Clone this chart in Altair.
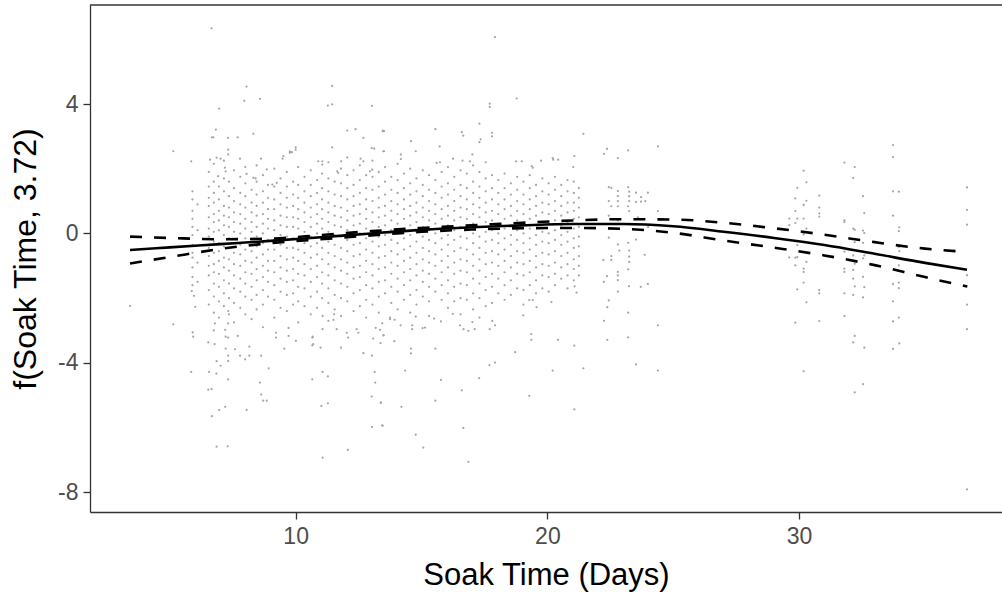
import altair as alt
import pandas as pd

# ---------------- smooth fit (solid) and confidence band (dashed) ----------------
curve_x = [3.42, 5, 7, 9, 11, 13, 15, 17, 19, 21, 23, 25, 27, 29, 31, 33, 35, 36.67]
fit_y = [-0.51, -0.43, -0.33, -0.23, -0.12, 0.0, 0.11, 0.19, 0.25, 0.29, 0.29, 0.22, 0.05, -0.14, -0.36, -0.63, -0.91, -1.12]
upper_y = [-0.10, -0.14, -0.18, -0.16, -0.05, 0.07, 0.17, 0.25, 0.33, 0.40, 0.44, 0.43, 0.33, 0.16, -0.04, -0.27, -0.47, -0.57]
lower_y = [-0.93, -0.73, -0.48, -0.30, -0.18, -0.06, 0.05, 0.12, 0.16, 0.17, 0.14, 0.02, -0.22, -0.44, -0.68, -0.98, -1.35, -1.64]

# ---------------- partial residuals: dense core, column by column ----------------
strip_x = [5.90, 6.10, 6.55, 6.75, 6.95, 7.15, 7.35, 7.55, 7.80, 8.00, 8.25, 8.45, 8.70, 8.90,
           9.15, 9.40, 9.65, 9.90, 10.10, 10.35, 10.60, 10.85, 11.05, 11.30, 11.55, 11.80,
           12.05, 12.30, 12.55, 12.80, 13.05, 13.30, 13.55, 13.80, 14.05, 14.30, 14.55, 14.80,
           15.05, 15.30, 15.55, 15.80, 16.05, 16.30, 16.55, 16.80, 17.05, 17.30, 17.55, 17.80,
           18.05, 18.30, 18.55, 18.80, 19.05, 19.30, 19.55, 19.80, 20.05, 20.30, 20.55, 20.80,
           21.05, 21.25]
strip_y = [
    [1.3, 1.05, 0.7, 0.45, 0.2, -0.05, -0.35, -0.6, -0.75, -1.05, -1.35, -1.6],
    [0.9, 0.1, -0.9, -1.5],
    [1.9, 1.45, 1.1, 0.85, 0.5, 0.15, -0.1, -0.45, -0.7, -1.0, -1.3, -1.75, -2.2],
    [2.15, 1.6, 1.25, 0.95, 0.6, 0.35, 0.05, -0.25, -0.6, -0.95, -1.2, -1.55, -1.95, -2.45, -3.0],
    [1.45, 1.05, 0.7, 0.4, 0.1, -0.3, -0.55, -0.85, -1.25, -1.65, -2.1, -2.6],
    [2.25, 1.7, 1.3, 0.85, 0.55, 0.25, -0.05, -0.4, -0.75, -1.05, -1.45, -1.85, -2.25],
    [1.6, 1.15, 0.8, 0.5, 0.2, -0.15, -0.45, -0.8, -1.15, -1.55, -2.0, -2.5],
    [1.95, 1.4, 1.0, 0.65, 0.35, 0.05, -0.3, -0.6, -0.95, -1.3, -1.7, -2.15, -2.75],
    [1.75, 1.25, 0.9, 0.6, 0.3, 0.0, -0.35, -0.65, -1.0, -1.4, -1.8, -2.3],
    [2.05, 1.55, 1.15, 0.8, 0.45, 0.15, -0.15, -0.5, -0.85, -1.2, -1.55, -1.95, -2.5],
    [1.35, 0.95, 0.65, 0.35, 0.05, -0.25, -0.55, -0.9, -1.25, -1.65, -2.05, -2.65],
    [2.1, 1.6, 1.2, 0.85, 0.55, 0.2, -0.1, -0.4, -0.75, -1.1, -1.45, -1.9, -2.35],
    [1.8, 1.3, 0.95, 0.6, 0.3, 0.0, -0.3, -0.65, -1.0, -1.35, -1.75, -2.2, -2.9],
    [1.5, 1.1, 0.75, 0.45, 0.15, -0.2, -0.5, -0.85, -1.15, -1.5, -1.95],
    [2.0, 1.45, 1.05, 0.75, 0.4, 0.1, -0.2, -0.5, -0.85, -1.2, -1.6, -2.05, -2.6],
    [1.7, 1.25, 0.9, 0.55, 0.25, -0.05, -0.35, -0.7, -1.05, -1.4, -1.8, -2.3],
    [1.9, 1.45, 1.1, 0.8, 0.5, 0.2, -0.1, -0.45, -0.8, -1.15, -1.5, -1.9, -2.4],
    [1.6, 1.2, 0.85, 0.5, 0.2, -0.15, -0.45, -0.75, -1.1, -1.45, -1.85, -2.2],
    [2.05, 1.5, 1.1, 0.75, 0.45, 0.15, -0.2, -0.5, -0.85, -1.25, -1.65, -2.1, -2.75],
    [1.75, 1.3, 0.95, 0.65, 0.35, 0.05, -0.3, -0.6, -0.95, -1.3, -1.7, -2.25],
    [1.95, 1.5, 1.15, 0.8, 0.5, 0.2, -0.1, -0.4, -0.75, -1.1, -1.5, -1.95, -2.5],
    [1.65, 1.25, 0.9, 0.6, 0.3, 0.0, -0.3, -0.65, -1.0, -1.35, -1.8, -2.3],
    [1.85, 1.4, 1.05, 0.75, 0.45, 0.15, -0.15, -0.45, -0.8, -1.2, -1.55, -2.0],
    [2.2, 1.7, 1.3, 0.95, 0.65, 0.35, 0.05, -0.25, -0.6, -0.95, -1.3, -1.7, -2.15, -2.7],
    [1.6, 1.2, 0.85, 0.55, 0.25, -0.05, -0.35, -0.7, -1.05, -1.45, -1.9, -2.35],
    [2.0, 1.55, 1.15, 0.8, 0.5, 0.2, -0.1, -0.45, -0.8, -1.15, -1.55, -2.0, -2.55],
    [2.35, 1.8, 1.4, 1.05, 0.7, 0.4, 0.1, -0.2, -0.55, -0.9, -1.25, -1.65, -2.1],
    [1.95, 1.5, 1.15, 0.85, 0.55, 0.25, -0.05, -0.35, -0.7, -1.05, -1.4, -1.85, -2.4],
    [2.1, 1.65, 1.25, 0.9, 0.6, 0.3, 0.0, -0.3, -0.65, -1.0, -1.35, -1.75, -2.25],
    [1.8, 1.4, 1.05, 0.75, 0.45, 0.15, -0.15, -0.5, -0.85, -1.2, -1.6, -2.05, -2.6],
    [2.25, 1.75, 1.35, 1.0, 0.65, 0.35, 0.05, -0.25, -0.6, -0.95, -1.3, -1.7, -2.2],
    [1.9, 1.45, 1.1, 0.8, 0.5, 0.2, -0.1, -0.4, -0.75, -1.1, -1.5, -1.95, -2.45],
    [2.05, 1.6, 1.2, 0.85, 0.55, 0.25, -0.05, -0.35, -0.7, -1.05, -1.45, -1.85],
    [1.75, 1.35, 1.0, 0.7, 0.4, 0.1, -0.2, -0.55, -0.9, -1.25, -1.65, -2.15],
    [2.15, 1.65, 1.25, 0.9, 0.6, 0.3, 0.0, -0.3, -0.65, -1.0, -1.4, -1.8, -2.35],
    [1.85, 1.4, 1.05, 0.75, 0.45, 0.15, -0.15, -0.5, -0.85, -1.2, -1.6, -2.05],
    [2.0, 1.55, 1.2, 0.85, 0.55, 0.25, -0.05, -0.4, -0.75, -1.1, -1.45, -1.9, -2.45],
    [1.7, 1.3, 0.95, 0.65, 0.35, 0.05, -0.25, -0.6, -0.95, -1.3, -1.75, -2.2],
    [1.95, 1.5, 1.15, 0.8, 0.5, 0.2, -0.1, -0.45, -0.8, -1.15, -1.5, -1.95],
    [1.8, 1.35, 1.0, 0.7, 0.4, 0.1, -0.2, -0.55, -0.9, -1.25, -1.65, -2.1, -2.55],
    [1.65, 1.25, 0.9, 0.6, 0.3, 0.0, -0.3, -0.65, -1.0, -1.4, -1.8],
    [1.9, 1.45, 1.1, 0.75, 0.45, 0.15, -0.15, -0.5, -0.85, -1.2, -1.6, -2.05],
    [2.05, 1.55, 1.2, 0.85, 0.55, 0.25, -0.05, -0.35, -0.7, -1.05, -1.45, -1.85, -2.3],
    [1.75, 1.35, 1.0, 0.7, 0.4, 0.1, -0.2, -0.55, -0.9, -1.25, -1.65, -2.1],
    [1.95, 1.5, 1.15, 0.8, 0.5, 0.2, -0.1, -0.45, -0.8, -1.15, -1.55, -2.0, -2.5],
    [1.85, 1.4, 1.05, 0.75, 0.45, 0.15, -0.15, -0.5, -0.85, -1.2, -1.6, -2.05],
    [2.1, 1.6, 1.25, 0.9, 0.6, 0.3, 0.0, -0.3, -0.65, -1.0, -1.4, -1.85, -2.35],
    [1.9, 1.45, 1.1, 0.8, 0.5, 0.2, -0.1, -0.45, -0.8, -1.15, -1.55, -2.0, -2.6],
    [2.2, 1.7, 1.3, 0.95, 0.65, 0.35, 0.05, -0.25, -0.6, -0.95, -1.35, -1.75, -2.25],
    [1.8, 1.4, 1.05, 0.7, 0.4, 0.1, -0.2, -0.55, -0.9, -1.25, -1.65, -2.15],
    [1.65, 1.25, 0.9, 0.6, 0.3, 0.0, -0.3, -0.65, -1.0, -1.4, -1.85],
    [1.85, 1.4, 1.05, 0.75, 0.45, 0.15, -0.15, -0.5, -0.85, -1.2, -1.6, -2.05],
    [1.55, 1.2, 0.85, 0.55, 0.25, -0.05, -0.35, -0.7, -1.05, -1.45, -1.9],
    [1.75, 1.35, 1.0, 0.7, 0.4, 0.1, -0.2, -0.55, -0.9, -1.25, -1.7],
    [1.6, 1.2, 0.9, 0.6, 0.3, 0.0, -0.3, -0.6, -0.95, -1.3, -1.75, -2.2],
    [1.8, 1.4, 1.05, 0.75, 0.45, 0.15, -0.15, -0.5, -0.85, -1.2, -1.6],
    [1.5, 1.15, 0.85, 0.55, 0.25, -0.05, -0.35, -0.7, -1.05, -1.45, -1.85],
    [1.7, 1.3, 0.95, 0.65, 0.35, 0.05, -0.25, -0.6, -0.95, -1.3, -1.7],
    [1.55, 1.2, 0.9, 0.6, 0.3, 0.0, -0.3, -0.65, -1.0, -1.35, -1.8],
    [1.75, 1.35, 1.0, 0.7, 0.4, 0.1, -0.2, -0.55, -0.9, -1.25, -1.6],
    [1.5, 1.15, 0.85, 0.55, 0.25, -0.05, -0.35, -0.7, -1.05, -1.4],
    [1.65, 1.3, 0.95, 0.65, 0.35, 0.05, -0.25, -0.6, -0.95, -1.3, -1.7],
    [1.6, 1.25, 0.95, 0.7, 0.45, 0.15, -0.15, -0.45, -0.8, -1.1, -1.45],
    [1.4, 1.1, 0.8, 0.5, 0.2, -0.1, -0.4, -0.7, -1.0, -1.3],
]

# ---------------- partial residuals: scattered points outside the core ----------------
sparse_x = [
    6.66, 8.05, 7.96, 8.58, 11.45, 11.28, 11.45, 13.03, 6.96, 5.14, 5.85, 6.83, 6.73, 6.67, 12.05, 12.38,
    12.69, 13.46, 8.32, 7.31, 7.70, 10.0, 10.0, 11.45, 9.77, 9.51, 9.48, 7.32, 7.32, 6.60, 6.86, 7.02,
    7.79, 8.62, 8.05, 8.32, 8.41, 7.19, 7.22, 6.92, 9.07, 8.85, 9.25, 10.9, 11.06, 11.06, 11.81, 11.69,
    11.65, 12.58, 12.69, 13.02, 13.12, 13.04, 12.95, 13.48, 9.77, 9.85,
    17.92, 18.78, 17.71, 17.71, 17.30, 13.46, 13.51, 15.55, 16.60, 16.66, 17.80, 17.80, 21.43, 15.72,
    17.35, 14.58, 22.37, 22.25, 23.21, 24.39, 22.80, 13.51, 14.77, 20.21, 20.23, 21.07, 14.18, 14.18,
    16.25, 16.92, 17.02, 17.30, 18.76, 18.98, 19.38, 19.42, 19.75, 21.03, 20.43, 15.73, 15.60, 16.63,
    22.44, 22.54, 22.80, 22.80, 22.80, 22.80, 23.21, 23.25, 23.25, 23.25, 23.21, 23.25, 23.52, 23.72,
    23.89, 23.99, 24.39, 22.44, 22.54, 23.72, 23.52, 22.44, 22.80, 23.21, 23.52, 22.44, 22.80, 23.25,
    22.60, 23.60, 24.00,
    22.22, 22.54, 22.54, 22.86, 23.25, 23.25, 23.25, 23.21, 23.87, 22.80, 22.80, 22.80, 22.80, 22.37,
    22.24, 23.24, 23.71, 23.99, 22.44, 22.38, 23.21, 22.25, 22.38, 23.21, 24.39, 23.52, 24.39,
    21.43, 21.07, 21.07, 20.42, 20.21, 19.28, 19.36, 19.36, 18.72, 17.70, 17.92, 17.29, 16.60, 16.66,
    16.86, 15.77, 15.55, 15.55, 14.58, 14.58, 14.35, 14.20, 13.38, 13.46, 14.77, 15.07, 13.92, 13.37,
    13.50, 15.04, 15.14, 14.63, 14.63, 15.50, 15.77, 16.24, 16.53, 16.67, 16.86, 17.11, 17.02, 17.71,
    17.92, 17.81, 19.28, 19.42, 19.04, 19.57, 20.16, 21.08, 21.16, 13.44, 13.75, 13.75, 13.93, 14.77,
    14.17,
    3.42, 5.14, 5.85, 5.91, 5.93, 6.01, 5.87, 5.96, 6.56, 6.53, 6.66, 6.53, 6.67, 6.86, 7.30, 6.96,
    7.20, 6.85, 7.02, 6.86, 7.32, 6.78, 6.79, 7.32, 7.32, 7.22, 7.59, 7.79, 7.99, 8.16, 8.16, 8.05,
    8.58, 8.63, 8.71, 8.85, 8.63, 8.93, 7.20, 7.32, 7.22, 7.32, 7.32, 7.70, 9.22, 9.22, 9.72, 9.72,
    9.55, 10.01, 10.66, 11.07, 11.28, 11.02, 11.28, 11.07, 12.07, 10.68, 10.70, 10.99, 11.80, 13.02,
    13.43, 13.03, 13.39, 13.14, 13.16, 12.69, 13.03, 13.08, 13.48, 12.42, 12.49, 13.35, 13.18, 11.50,
    11.53, 11.63, 12.03, 12.09, 11.07, 11.07, 10.66, 10.66,
    30.18, 30.29, 29.93, 29.85, 30.29, 30.18, 29.85, 29.61, 29.93, 30.18, 29.85, 29.61, 30.18, 30.18,
    29.93, 30.29, 30.80, 30.80, 30.80, 30.80, 31.80, 32.21, 32.15, 31.80, 31.80, 32.54, 32.59, 32.15,
    32.21, 32.54, 32.59, 32.21, 32.54, 31.80, 33.73, 33.73, 33.73, 33.96, 33.73, 33.98, 33.96, 33.96,
    33.98, 36.67, 36.67, 36.67,
    29.61, 29.85, 29.93, 30.29, 29.85, 30.18, 30.18, 30.18, 29.93, 30.29, 29.85, 30.18, 30.80, 30.80,
    30.80, 31.80, 31.80, 31.80, 31.80, 32.15, 32.21, 32.15, 32.15, 32.21, 32.15, 32.54, 32.59, 32.54,
    32.59, 32.54, 32.21, 32.15, 32.59, 32.54, 32.21, 33.96, 33.73, 33.96, 33.96, 33.73, 33.73, 33.96,
    33.73, 33.98, 36.67, 36.67, 36.67, 36.67, 36.67,
]
sparse_y = [
    6.34, 4.54, 4.10, 4.16, 4.56, 3.95, 3.99, 3.94, 3.86, 2.54, 2.23, 3.21, 2.97, 2.97, 3.18, 3.22,
    2.95, 3.16, 3.08, 2.95, 2.97, 2.66, 2.59, 2.66, 2.49, 2.39, 2.31, 2.59, 2.44, 2.28, 2.34, 2.31,
    2.31, 2.31, 1.84, 1.72, 1.70, 2.03, 1.92, 1.77, 1.51, 1.98, 1.56, 2.23, 2.23, 2.13, 2.23, 1.87,
    1.92, 2.31, 2.23, 2.64, 2.62, 1.97, 1.92, 2.54, 2.54, 2.51,
    6.07, 4.17, 4.01, 3.91, 3.39, 3.18, 3.16, 3.22, 3.13, 3.02, 3.11, 3.00, 3.08, 2.69,
    2.91, 2.85, 2.61, 2.46, 2.57, 2.69, 2.33, 2.54, 2.54, 2.33, 2.28, 2.39, 2.44, 2.30,
    2.31, 2.23, 2.44, 2.82, 2.23, 2.23, 2.08, 2.03, 2.25, 2.05, 2.28, 2.20, 2.18, 2.25,
    1.43, 1.41, 1.31, 1.15, 1.00, 0.84, 1.43, 1.29, 1.15, 1.00, 0.84, 0.69, 1.26, 1.12,
    1.00, 1.26, 0.69, 1.00, 0.84, 0.98, 0.97, -0.13, -0.34, -0.29, -0.19, 0.55, 0.40, 0.30,
    0.15, 0.50, 0.20,
    -0.82, -0.70, -0.82, -0.53, -0.53, -0.72, -0.88, -1.11, -0.66, -1.19, -1.30, -1.44, -1.80, -1.32,
    -1.50, -1.63, -1.65, -1.56, -2.07, -2.28, -2.45, -2.70, -3.29, -3.21, -2.84, -4.05, -4.24,
    -4.17, -5.44, -3.47, -3.29, -4.24, -5.02, -3.11, -3.29, -3.67, -4.07, -3.99, -4.47, -4.85, -6.01,
    -7.06, -4.53, -5.17, -3.56, -3.56, -3.71, -4.24, -5.36, -5.23, -5.94, -6.22, -6.62, -3.33, -3.39,
    -3.15, -2.93, -2.91, -2.96, -2.84, -2.63, -2.72, -2.49, -2.84, -2.96, -3.01, -2.96, -2.74, -2.96,
    -2.84, -2.70, -2.06, -2.06, -2.53, -2.28, -2.12, -1.64, -1.83, -2.78, -2.65, -2.60, -2.67, -2.57,
    -2.84,
    -2.24, -2.81, -4.28, -3.06, -3.19, -2.27, -1.78, -1.93, -4.28, -3.37, -4.81, -4.83, -5.65, -6.59, -6.58, -5.46,
    -5.36, -4.33, -4.09, -3.95, -4.51, -3.42, -2.78, -3.94, -3.78, -3.56, -3.58, -3.78, -3.89, -3.78, -3.50, -5.45,
    -4.61, -4.98, -5.17, -5.17, -3.78, -4.17, -2.98, -3.22, -3.19, -2.78, -2.40, -3.17, -3.07, -3.22, -2.92, -3.17,
    -3.56, -3.32, -4.51, -4.28, -4.42, -5.33, -5.25, -6.93, -6.69, -3.19, -3.42, -3.53, -3.53, -5.04,
    -5.94, -5.98, -5.23, -4.28, -4.61, -3.70, -3.78, -3.25, -3.15, -2.96, -3.07, -2.98, -2.92, -2.67,
    -2.50, -2.96, -3.07, -3.22, -2.96, -2.55, -3.22, -3.46,
    1.94, 1.58, 1.41, 1.08, 1.01, 0.88, 0.69, 0.46, 0.46, 0.46, 0.32, 0.26, 0.01, -0.03,
    -0.36, 0.15, 1.17, 0.80, 0.62, 0.52, 2.19, 2.05, 1.71, 0.40, 0.35, 1.15, 0.63, 0.15,
    0.11, 0.09, 0.01, -0.27, -0.29, -0.56, 2.73, 2.36, 1.30, 1.29, 0.55, 0.19, 0.07, -0.42,
    -0.55, 1.42, 0.73, 0.27,
    -0.74, -0.75, -0.73, -0.88, -0.99, -1.09, -1.19, -1.52, -1.73, -2.13, -2.76, -4.26, -1.75, -1.85,
    -2.71, -1.09, -1.19, -1.85, -2.55, -0.68, -0.94, -1.13, -1.40, -1.64, -1.90, -0.77, -0.68, -1.34,
    -1.66, -1.98, -3.17, -3.37, -3.53, -4.66, -4.91, -0.99, -1.56, -1.52, -1.69, -2.10, -2.72, -2.60,
    -3.57, -3.40, -1.29, -1.64, -2.20, -2.96, -7.91,
]

# ---------------- axis ticks ----------------
x_ticks = [10, 20, 30]
y_ticks = [-8, -4, 0, 4]
x_domain = [1.83, 38.06]
y_domain = [-8.61, 7.06]

# ---------------- tables ----------------
px, py = [], []
for sx, ys in zip(strip_x, strip_y):
    for v in ys:
        px.append(sx)
        py.append(v)
n_sparse = min(len(sparse_x), len(sparse_y))
px += sparse_x[:n_sparse]
py += sparse_y[:n_sparse]
points = pd.DataFrame({"x": px, "y": py})
curve = pd.DataFrame({"x": curve_x, "fit": fit_y, "upper": upper_y, "lower": lower_y})

FONT = "Liberation Sans"
W, H = 912, 507

xscale = alt.Scale(domain=x_domain, nice=False, zero=False)
yscale = alt.Scale(domain=y_domain, nice=False, zero=False)

xaxis = alt.Axis(values=x_ticks, title="Soak Time (Days)", grid=False,
                 labelFontSize=23, labelColor="#4d4d4d", labelFont=FONT, labelPadding=6,
                 titleFontSize=31, titleFont=FONT, titleColor="black", titleFontWeight="normal",
                 titlePadding=12, domainColor="#333333", domainWidth=1.3,
                 tickColor="#333333", tickWidth=1.3, tickSize=7)
yaxis = alt.Axis(values=y_ticks, title="f(Soak Time, 3.72)", grid=False,
                 labelExpr="'' + datum.value",
                 labelFontSize=23, labelColor="#4d4d4d", labelFont=FONT, labelPadding=5,
                 titleFontSize=32, titleFont=FONT, titleColor="black", titleFontWeight="normal",
                 titlePadding=15, domainColor="#333333", domainWidth=1.3,
                 tickColor="#333333", tickWidth=1.3, tickSize=7)

pts = alt.Chart(points).mark_circle(size=5, color="#a6a6a6", opacity=1, clip=True).encode(
    x=alt.X("x:Q", scale=xscale, axis=xaxis),
    y=alt.Y("y:Q", scale=yscale, axis=yaxis),
)

base = alt.Chart(curve)
fit_line = base.mark_line(color="black", strokeWidth=2.6, interpolate="monotone", clip=True).encode(
    x=alt.X("x:Q", scale=xscale), y=alt.Y("fit:Q", scale=yscale))
up_line = base.mark_line(color="black", strokeWidth=2.6, strokeDash=[12, 12], interpolate="monotone", clip=True).encode(
    x=alt.X("x:Q", scale=xscale), y=alt.Y("upper:Q", scale=yscale))
lo_line = base.mark_line(color="black", strokeWidth=2.6, strokeDash=[12, 12], interpolate="monotone", clip=True).encode(
    x=alt.X("x:Q", scale=xscale), y=alt.Y("lower:Q", scale=yscale))

top_border = alt.Chart(pd.DataFrame({"a": [0]})).mark_rule(color="#333333", strokeWidth=1.3).encode(
    x=alt.value(0), x2=alt.value(W), y=alt.value(0))

chart = alt.layer(pts, fit_line, up_line, lo_line, top_border).properties(
    width=W, height=H,
    padding={"left": 90, "top": 5, "right": 0, "bottom": 82},
    autosize=alt.AutoSizeParams(type="none"),
    background="white",
).configure_view(strokeWidth=0)

chart.save("out.html", embed_options={"renderer": "svg", "actions": False})
